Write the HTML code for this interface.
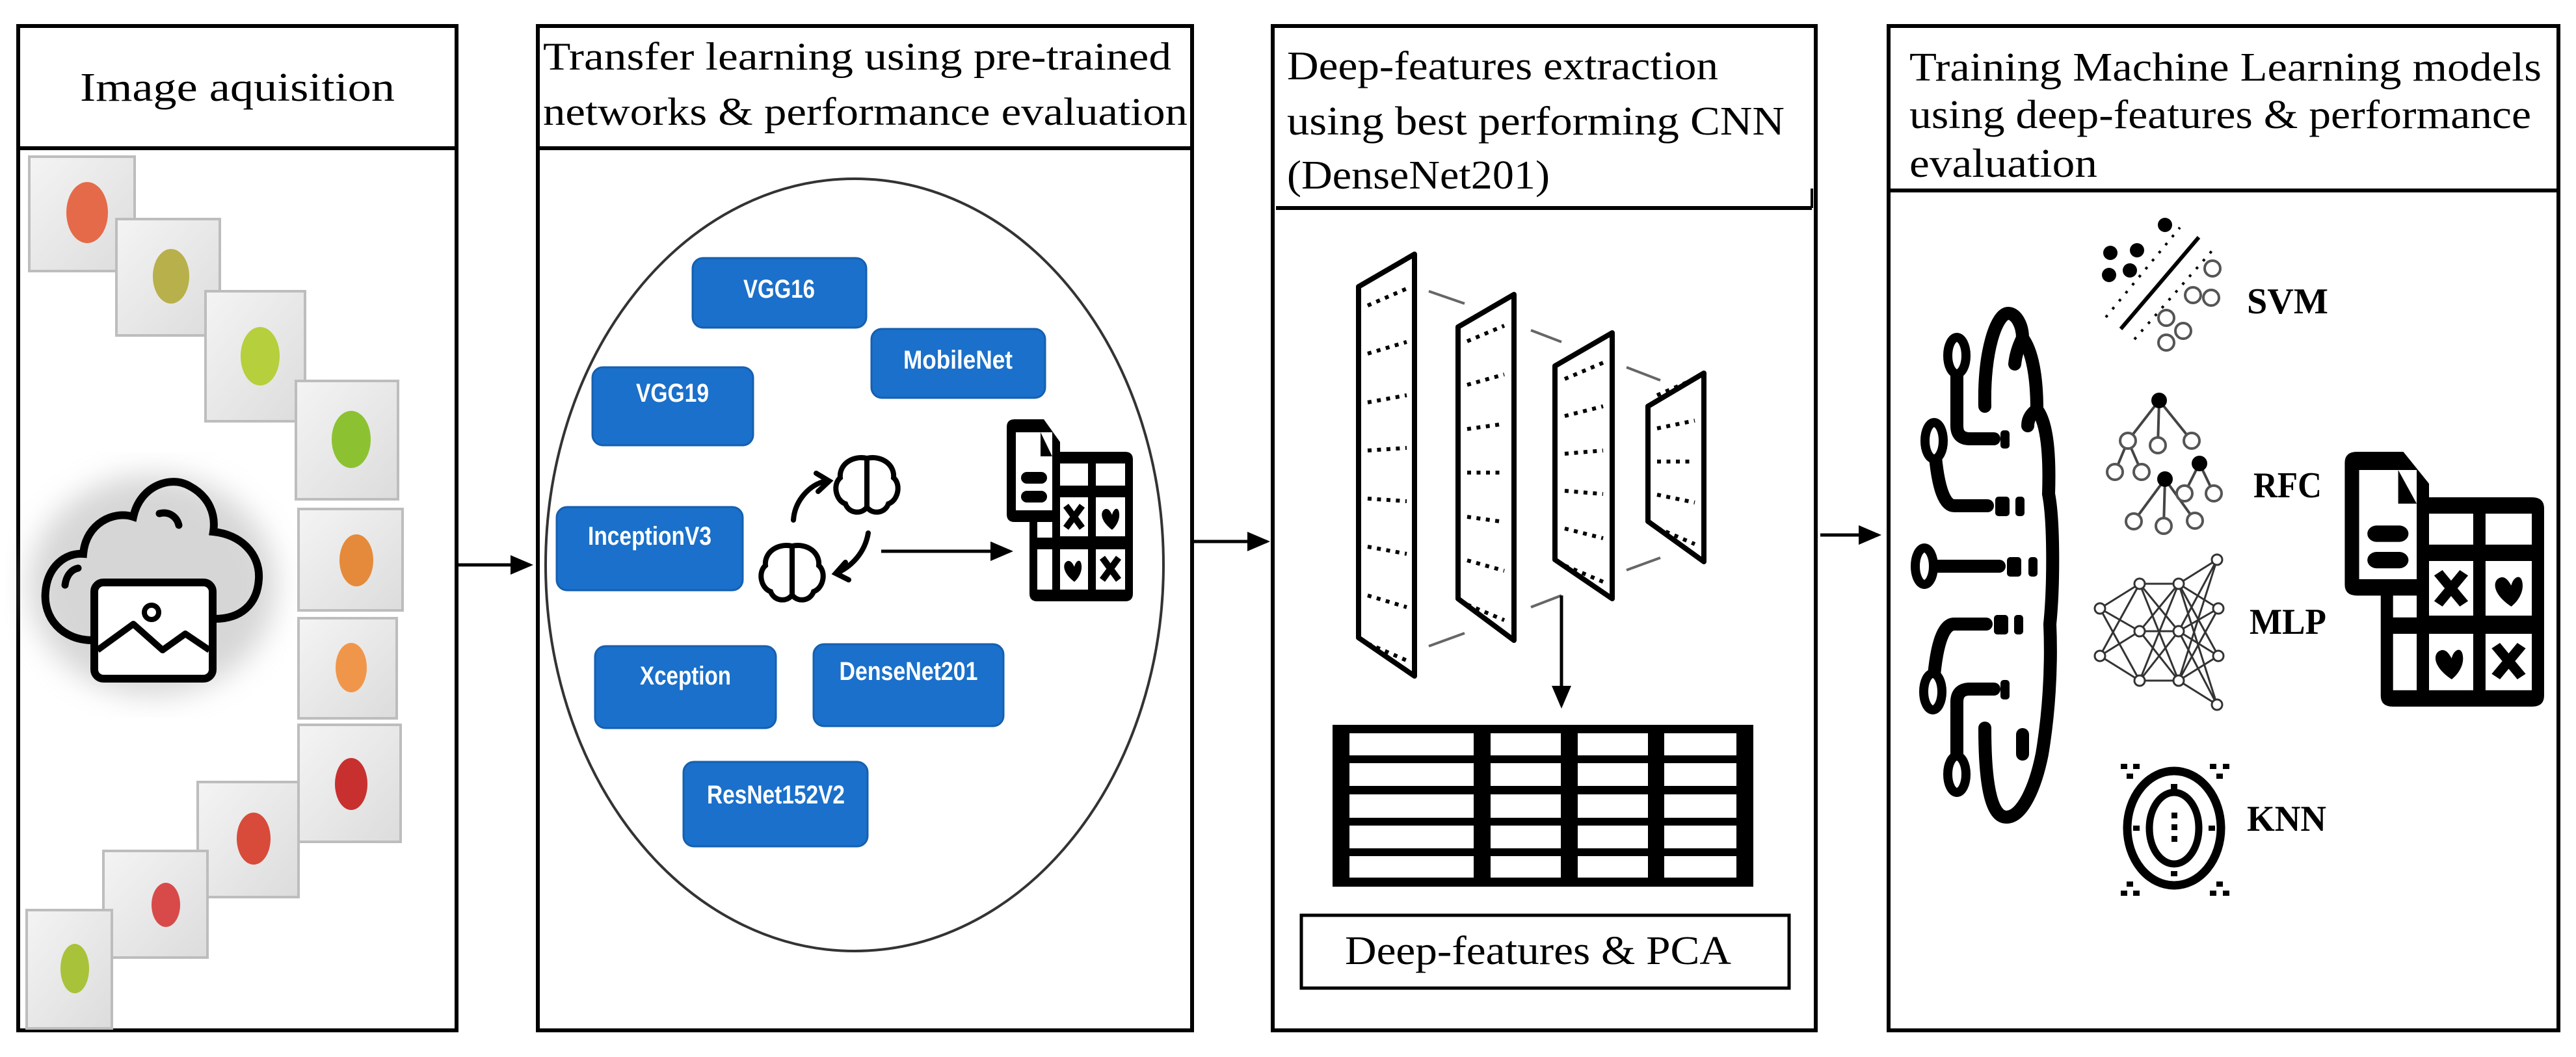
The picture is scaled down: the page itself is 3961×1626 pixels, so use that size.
<!DOCTYPE html>
<html><head><meta charset="utf-8"><style>
html,body{margin:0;padding:0;background:#fff;}
svg{display:block}
.t{font-family:"Liberation Serif",serif;fill:#000}
.b{font-family:"Liberation Sans",sans-serif;fill:#fff;font-weight:bold;font-size:40px;text-anchor:middle}
.lb{font-family:"Liberation Serif",serif;font-weight:bold;font-size:56px;fill:#000}
</style></head><body>
<svg width="3961" height="1626" viewBox="0 0 3961 1626" xmlns="http://www.w3.org/2000/svg">
<defs>
<marker id="ah" markerWidth="8" markerHeight="8" refX="6" refY="4" orient="auto" markerUnits="strokeWidth"><path d="M0,1 L7,4 L0,7 z" fill="#000"/></marker>
<linearGradient id="tile" x1="0" y1="0" x2="1" y2="1"><stop offset="0" stop-color="#f4f4f4"/><stop offset="1" stop-color="#dcdcdc"/></linearGradient>
<filter id="blur"><feGaussianBlur stdDeviation="22"/></filter>
<g id="tab">
  <path d="M30,25 H75 L100,60 V75 H200 Q212,75 212,87 V293 Q212,305 200,305 H65 Q53,305 53,293 V183 H30 Q18,183 18,171 V37 Q18,25 30,25 Z" fill="#000"/>
  <rect x="32" y="45" width="56" height="120" fill="#fff"/>
  <path d="M70,45 V82 H88 Z" fill="#000"/>
  <rect x="40" y="106" width="40" height="18" rx="9" fill="#000"/>
  <rect x="40" y="135" width="40" height="18" rx="9" fill="#000"/>
  <rect x="100" y="93" width="43" height="34" fill="#fff"/>
  <rect x="155" y="93" width="45" height="34" fill="#fff"/>
  <rect x="65" y="183" width="23" height="24" fill="#fff"/>
  <rect x="100" y="145" width="43" height="60" fill="#fff"/>
  <rect x="155" y="145" width="45" height="60" fill="#fff"/>
  <rect x="65" y="225" width="23" height="62" fill="#fff"/>
  <rect x="100" y="225" width="43" height="62" fill="#fff"/>
  <rect x="155" y="225" width="45" height="62" fill="#fff"/>
  <path d="M109,158 L134,192 M134,158 L109,192" stroke="#000" stroke-width="10"/>
  <path d="M165,238 L190,272 M190,238 L165,272" stroke="#000" stroke-width="10"/>
  <path d="M180,195 C160,180 162,165 170,163 C175,162 178,168 180,172 C182,162 190,158 191,170 C192,180 186,190 180,195 Z" fill="#000"/>
  <path d="M122,275 C102,260 104,245 112,243 C117,242 120,248 122,252 C124,242 132,238 133,250 C134,260 128,270 122,275 Z" fill="#000"/>
</g>
</defs>

<!-- Panel 1 -->
<rect x="28" y="40" width="674" height="1545" fill="none" stroke="#000" stroke-width="6"/>
<line x1="28" y1="228" x2="702" y2="228" stroke="#000" stroke-width="6"/>
<text class="t" x="365" y="155" font-size="62" text-anchor="middle" textLength="484" lengthAdjust="spacingAndGlyphs">Image aquisition</text>

<g stroke="#bdbdbd" stroke-width="4" fill="url(#tile)">
<rect x="45" y="241" width="162" height="176"/>
<rect x="179" y="337" width="159" height="179"/>
<rect x="316" y="448" width="153" height="200"/>
<rect x="455" y="586" width="157" height="182"/>
<rect x="459" y="783" width="160" height="156"/>
<rect x="459" y="951" width="151" height="154"/>
<rect x="459" y="1115" width="157" height="180"/>
<rect x="304" y="1203" width="155" height="177"/>
<rect x="159" y="1309" width="160" height="164"/>
<rect x="41" y="1400" width="131" height="182"/>
</g>
<g>
<ellipse cx="134" cy="327" rx="32" ry="47" fill="#e56a4a"/>
<ellipse cx="263" cy="425" rx="28" ry="42" fill="#b8b04a"/>
<ellipse cx="400" cy="548" rx="30" ry="45" fill="#b5cf3d"/>
<ellipse cx="540" cy="676" rx="30" ry="44" fill="#8cc232"/>
<ellipse cx="548" cy="862" rx="26" ry="40" fill="#e58a3a"/>
<ellipse cx="540" cy="1027" rx="24" ry="38" fill="#f0964a"/>
<ellipse cx="540" cy="1206" rx="25" ry="40" fill="#c83030"/>
<ellipse cx="390" cy="1290" rx="26" ry="40" fill="#d84a3a"/>
<ellipse cx="255" cy="1392" rx="22" ry="34" fill="#d84a4a"/>
<ellipse cx="115" cy="1490" rx="22" ry="38" fill="#a8c23a"/>
</g>

<ellipse cx="235" cy="900" rx="190" ry="170" fill="#bbb" filter="url(#blur)" opacity="0.6"/>
<path d="M143,985 C95,985 66,950 70,910 C73,872 100,850 128,852 C132,805 175,785 205,795 C215,748 262,730 292,748 C322,764 332,792 328,818 C370,822 400,852 398,890 C396,930 370,952 330,952" fill="none" stroke="#000" stroke-width="12" stroke-linecap="round"/>
<path d="M100,900 C102,885 110,876 120,874" fill="none" stroke="#000" stroke-width="11" stroke-linecap="round"/>
<path d="M245,790 C260,786 272,795 275,808" fill="none" stroke="#000" stroke-width="11" stroke-linecap="round"/>
<rect x="145" y="896" width="182" height="148" rx="14" fill="#fff" stroke="#000" stroke-width="12"/>
<circle cx="233" cy="942" r="11" fill="none" stroke="#000" stroke-width="8"/>
<path d="M150,1000 L205,960 L250,1000 L285,975 L322,1000" fill="none" stroke="#000" stroke-width="10" stroke-linejoin="round"/>

<line x1="702" y1="869" x2="815" y2="869" stroke="#000" stroke-width="5" marker-end="url(#ah)"/>

<!-- Panel 2 -->
<rect x="827" y="40" width="1006" height="1545" fill="none" stroke="#000" stroke-width="6"/>
<line x1="827" y1="228" x2="1833" y2="228" stroke="#000" stroke-width="6"/>
<text class="t" x="835" y="107" font-size="60" textLength="966" lengthAdjust="spacingAndGlyphs">Transfer learning using pre-trained</text>
<text class="t" x="835" y="192" font-size="60" textLength="991" lengthAdjust="spacingAndGlyphs">networks &amp; performance evaluation</text>
<ellipse cx="1314" cy="869" rx="475" ry="594" fill="none" stroke="#333" stroke-width="4"/>
<g fill="#1a70ca" stroke="#1560b0" stroke-width="3">
<rect x="1065" y="397" width="267" height="107" rx="16"/>
<rect x="1340" y="506" width="267" height="106" rx="16"/>
<rect x="911" y="565" width="247" height="120" rx="16"/>
<rect x="856" y="780" width="286" height="128" rx="16"/>
<rect x="915" y="994" width="278" height="126" rx="16"/>
<rect x="1251" y="991" width="292" height="126" rx="16"/>
<rect x="1051" y="1172" width="283" height="130" rx="16"/>
</g>
<text class="b" x="1198" y="458" textLength="110" lengthAdjust="spacingAndGlyphs">VGG16</text>
<text class="b" x="1473" y="567" textLength="168" lengthAdjust="spacingAndGlyphs">MobileNet</text>
<text class="b" x="1034" y="618" textLength="112" lengthAdjust="spacingAndGlyphs">VGG19</text>
<text class="b" x="999" y="838" textLength="190" lengthAdjust="spacingAndGlyphs">InceptionV3</text>
<text class="b" x="1054" y="1053" textLength="140" lengthAdjust="spacingAndGlyphs">Xception</text>
<text class="b" x="1397" y="1046" textLength="213" lengthAdjust="spacingAndGlyphs">DenseNet201</text>
<text class="b" x="1193" y="1236" textLength="212" lengthAdjust="spacingAndGlyphs">ResNet152V2</text>

<g fill="none" stroke="#000" stroke-width="8" stroke-linecap="round">
<path d="M1333,705 C1310,700 1290,715 1292,735 C1280,745 1285,770 1300,775 C1305,790 1325,792 1333,780 Z"/>
<path d="M1333,705 C1356,700 1376,715 1374,735 C1386,745 1381,770 1366,775 C1361,790 1341,792 1333,780"/>
<path d="M1218,840 C1195,835 1175,850 1177,870 C1165,880 1170,905 1185,910 C1190,925 1210,927 1218,915 Z"/>
<path d="M1218,840 C1241,835 1261,850 1259,870 C1271,880 1266,905 1251,910 C1246,925 1226,927 1218,915"/>
<path d="M1220,800 C1222,770 1245,745 1270,740"/>
<path d="M1255,728 L1275,740 L1258,756"/>
<path d="M1335,820 C1330,850 1310,870 1290,880"/>
<path d="M1300,865 L1285,882 L1305,892"/>
</g>
<line x1="1355" y1="848" x2="1553" y2="848" stroke="#000" stroke-width="5" marker-end="url(#ah)"/>
<use href="#tab" transform="translate(1530,620)"/>

<line x1="1833" y1="833" x2="1948" y2="833" stroke="#000" stroke-width="5" marker-end="url(#ah)"/>

<!-- Panel 3 -->
<rect x="1957" y="40" width="835" height="1545" fill="none" stroke="#000" stroke-width="6"/>
<line x1="1962" y1="320" x2="2786" y2="320" stroke="#000" stroke-width="6"/>
<line x1="2786" y1="290" x2="2786" y2="320" stroke="#000" stroke-width="4"/>
<text class="t" x="1979" y="122" font-size="62" textLength="663" lengthAdjust="spacingAndGlyphs">Deep-features extraction</text>
<text class="t" x="1979" y="207" font-size="62" textLength="765" lengthAdjust="spacingAndGlyphs">using best performing CNN</text>
<text class="t" x="1979" y="290" font-size="62" textLength="404" lengthAdjust="spacingAndGlyphs">(DenseNet201)</text>

<g fill="#fff" stroke="#000" stroke-width="8" stroke-linejoin="round">
<path d="M2089,441 L2175,391 L2175,1040 L2089,981 Z"/>
<path d="M2242,503 L2328,453 L2328,985 L2242,921 Z"/>
<path d="M2391,563 L2479,512 L2479,921 L2391,861 Z"/>
<path d="M2534,625 L2620,574 L2620,864 L2534,802 Z"/>
</g>
<g stroke="#666" stroke-width="4">
<line x1="2197" y1="448" x2="2252" y2="467"/><line x1="2197" y1="994" x2="2252" y2="974"/>
<line x1="2354" y1="508" x2="2401" y2="526"/><line x1="2354" y1="934" x2="2401" y2="916"/>
<line x1="2501" y1="565" x2="2553" y2="585"/><line x1="2501" y1="877" x2="2553" y2="858"/>
</g>
<g stroke="#000" stroke-width="6" stroke-dasharray="6 8.5">
<line x1="2103" y1="470" x2="2163" y2="444"/>
<line x1="2103" y1="544" x2="2163" y2="526"/>
<line x1="2103" y1="619" x2="2163" y2="608"/>
<line x1="2103" y1="693" x2="2163" y2="689"/>
<line x1="2103" y1="767" x2="2163" y2="771"/>
<line x1="2103" y1="841" x2="2163" y2="852"/>
<line x1="2103" y1="916" x2="2163" y2="934"/>
<line x1="2103" y1="990" x2="2163" y2="1016"/>
<line x1="2256" y1="525" x2="2313" y2="501"/>
<line x1="2256" y1="592" x2="2313" y2="576"/>
<line x1="2256" y1="660" x2="2313" y2="652"/>
<line x1="2256" y1="727" x2="2313" y2="727"/>
<line x1="2256" y1="795" x2="2313" y2="803"/>
<line x1="2256" y1="862" x2="2313" y2="878"/>
<line x1="2256" y1="930" x2="2313" y2="954"/>
<line x1="2406" y1="583" x2="2465" y2="558"/>
<line x1="2406" y1="640" x2="2465" y2="625"/>
<line x1="2406" y1="698" x2="2465" y2="693"/>
<line x1="2406" y1="755" x2="2465" y2="760"/>
<line x1="2406" y1="813" x2="2465" y2="828"/>
<line x1="2406" y1="870" x2="2465" y2="895"/>
<line x1="2548" y1="608" x2="2606" y2="583"/>
<line x1="2548" y1="659" x2="2606" y2="647"/>
<line x1="2548" y1="710" x2="2606" y2="710"/>
<line x1="2548" y1="761" x2="2606" y2="773"/>
<line x1="2548" y1="812" x2="2606" y2="837"/>
</g>
<line x1="2401" y1="916" x2="2401" y2="1085" stroke="#000" stroke-width="5" marker-end="url(#ah)"/>

<rect x="2049" y="1115" width="647" height="249" fill="#000"/>
<g fill="#fff">
<rect x="2075" y="1128" width="191" height="34"/><rect x="2292" y="1128" width="108" height="34"/><rect x="2426" y="1128" width="108" height="34"/><rect x="2559" y="1128" width="111" height="34"/>
<rect x="2075" y="1174" width="191" height="35"/><rect x="2292" y="1174" width="108" height="35"/><rect x="2426" y="1174" width="108" height="35"/><rect x="2559" y="1174" width="111" height="35"/>
<rect x="2075" y="1222" width="191" height="36"/><rect x="2292" y="1222" width="108" height="36"/><rect x="2426" y="1222" width="108" height="36"/><rect x="2559" y="1222" width="111" height="36"/>
<rect x="2075" y="1270" width="191" height="35"/><rect x="2292" y="1270" width="108" height="35"/><rect x="2426" y="1270" width="108" height="35"/><rect x="2559" y="1270" width="111" height="35"/>
<rect x="2075" y="1317" width="191" height="33"/><rect x="2292" y="1317" width="108" height="33"/><rect x="2426" y="1317" width="108" height="33"/><rect x="2559" y="1317" width="111" height="33"/>
</g>
<rect x="2001" y="1408" width="750" height="112" fill="none" stroke="#000" stroke-width="5"/>
<text class="t" x="2068" y="1483" font-size="62" textLength="594" lengthAdjust="spacingAndGlyphs">Deep-features &amp; PCA</text>

<line x1="2799" y1="823" x2="2888" y2="823" stroke="#000" stroke-width="5" marker-end="url(#ah)"/>

<!-- Panel 4 -->
<rect x="2904" y="40" width="1030" height="1545" fill="none" stroke="#000" stroke-width="6"/>
<line x1="2904" y1="293" x2="3934" y2="293" stroke="#000" stroke-width="6"/>
<text class="t" x="2936" y="124" font-size="62" textLength="972" lengthAdjust="spacingAndGlyphs">Training Machine Learning models</text>
<text class="t" x="2936" y="197" font-size="62" textLength="956" lengthAdjust="spacingAndGlyphs">using deep-features &amp; performance</text>
<text class="t" x="2936" y="272" font-size="62" textLength="289" lengthAdjust="spacingAndGlyphs">evaluation</text>

<g fill="none" stroke="#000" stroke-width="20" stroke-linecap="round">
<path d="M3052,625 C3050,540 3070,482 3088,482 C3100,482 3110,500 3110,520 C3125,540 3132,580 3132,630 C3148,650 3152,700 3150,760 C3158,800 3158,900 3152,960 C3155,1030 3150,1100 3140,1160 C3130,1210 3110,1257 3085,1257 C3065,1257 3052,1220 3052,1120"/>
<path d="M3009,547 L3009,655 Q3009,675 3029,675 L3066,675"/>
<path d="M2974,678 Q2980,778 3005,778 L3056,778"/>
<path d="M2959,871 L3074,871"/>
<path d="M2972,1064 Q2978,960 3005,960 L3054,960"/>
<path d="M3009,1191 L3009,1080 Q3009,1060 3029,1060 L3066,1060"/>
<path d="M3110,520 Q3100,540 3098,560"/>
<path d="M3132,630 Q3118,640 3118,655"/>
<path d="M3110,1160 L3110,1130"/>
</g>
<g fill="#fff" stroke="#000" stroke-width="14">
<ellipse cx="3009" cy="547" rx="14" ry="28"/>
<ellipse cx="2974" cy="678" rx="14" ry="28"/>
<ellipse cx="2959" cy="871" rx="14" ry="28"/>
<ellipse cx="2972" cy="1064" rx="14" ry="28"/>
<ellipse cx="3009" cy="1191" rx="14" ry="28"/>
</g>
<g fill="#000">
<rect x="3076" y="662" width="14" height="28" rx="5"/>
<rect x="3068" y="764" width="22" height="30" rx="5"/><rect x="3099" y="764" width="14" height="30" rx="5"/>
<rect x="3086" y="857" width="22" height="30" rx="5"/><rect x="3119" y="857" width="14" height="30" rx="5"/>
<rect x="3066" y="946" width="22" height="30" rx="5"/><rect x="3097" y="946" width="14" height="30" rx="5"/>
<rect x="3076" y="1046" width="14" height="30" rx="5"/>
</g>

<!-- SVM -->
<g fill="#000">
<circle cx="3245" cy="389" r="11"/><circle cx="3286" cy="385" r="11"/><circle cx="3243" cy="423" r="11"/><circle cx="3275" cy="416" r="11"/><circle cx="3329" cy="346" r="11"/>
</g>
<line x1="3261" y1="506" x2="3381" y2="365" stroke="#000" stroke-width="6"/>
<line x1="3238" y1="488" x2="3352" y2="350" stroke="#000" stroke-width="4" stroke-dasharray="4 12"/>
<line x1="3282" y1="522" x2="3402" y2="385" stroke="#000" stroke-width="4" stroke-dasharray="4 12"/>
<g fill="none" stroke="#555" stroke-width="4">
<circle cx="3402" cy="413" r="12"/><circle cx="3372" cy="454" r="12"/><circle cx="3400" cy="458" r="12"/><circle cx="3331" cy="489" r="12"/><circle cx="3357" cy="509" r="12"/><circle cx="3331" cy="527" r="12"/>
</g>
<text class="lb" x="3455" y="482" textLength="125" lengthAdjust="spacingAndGlyphs">SVM</text>

<!-- RFC -->
<g stroke="#444" stroke-width="4" fill="none">
<path d="M3320,616 L3272,678 M3320,616 L3318,685 M3320,616 L3370,678 M3272,678 L3252,726 M3272,678 L3293,726"/>
<path d="M3329,737 L3281,802 M3329,737 L3327,809 M3329,737 L3375,801 M3382,713 L3359,759 M3382,713 L3404,759"/>
</g>
<g fill="#000"><circle cx="3320" cy="616" r="12"/><circle cx="3329" cy="737" r="12"/><circle cx="3382" cy="713" r="12"/></g>
<g fill="#fff" stroke="#555" stroke-width="4">
<circle cx="3272" cy="678" r="12"/><circle cx="3318" cy="685" r="12"/><circle cx="3370" cy="678" r="12"/><circle cx="3252" cy="726" r="12"/><circle cx="3293" cy="726" r="12"/>
<circle cx="3281" cy="802" r="12"/><circle cx="3327" cy="809" r="12"/><circle cx="3375" cy="801" r="12"/><circle cx="3359" cy="759" r="12"/><circle cx="3404" cy="759" r="12"/>
</g>
<text class="lb" x="3465" y="765" textLength="105" lengthAdjust="spacingAndGlyphs">RFC</text>

<!-- MLP -->
<g stroke="#333" stroke-width="3">
<line x1="3229" y1="936" x2="3290" y2="898"/><line x1="3229" y1="936" x2="3290" y2="971"/><line x1="3229" y1="936" x2="3290" y2="1047"/>
<line x1="3229" y1="1009" x2="3290" y2="898"/><line x1="3229" y1="1009" x2="3290" y2="971"/><line x1="3229" y1="1009" x2="3290" y2="1047"/>
<line x1="3290" y1="898" x2="3350" y2="898"/><line x1="3290" y1="898" x2="3350" y2="971"/><line x1="3290" y1="898" x2="3350" y2="1047"/>
<line x1="3290" y1="971" x2="3350" y2="898"/><line x1="3290" y1="971" x2="3350" y2="971"/><line x1="3290" y1="971" x2="3350" y2="1047"/>
<line x1="3290" y1="1047" x2="3350" y2="898"/><line x1="3290" y1="1047" x2="3350" y2="971"/><line x1="3290" y1="1047" x2="3350" y2="1047"/>
<line x1="3350" y1="898" x2="3409" y2="861"/><line x1="3350" y1="898" x2="3411" y2="936"/><line x1="3350" y1="898" x2="3411" y2="1009"/><line x1="3350" y1="898" x2="3409" y2="1084"/>
<line x1="3350" y1="971" x2="3409" y2="861"/><line x1="3350" y1="971" x2="3411" y2="936"/><line x1="3350" y1="971" x2="3411" y2="1009"/><line x1="3350" y1="971" x2="3409" y2="1084"/>
<line x1="3350" y1="1047" x2="3409" y2="861"/><line x1="3350" y1="1047" x2="3411" y2="936"/><line x1="3350" y1="1047" x2="3411" y2="1009"/><line x1="3350" y1="1047" x2="3409" y2="1084"/>
</g>
<g fill="#fff" stroke="#333" stroke-width="3">
<circle cx="3229" cy="936" r="8"/><circle cx="3229" cy="1009" r="8"/>
<circle cx="3290" cy="898" r="8"/><circle cx="3290" cy="971" r="8"/><circle cx="3290" cy="1047" r="8"/>
<circle cx="3350" cy="898" r="8"/><circle cx="3350" cy="971" r="8"/><circle cx="3350" cy="1047" r="8"/>
<circle cx="3409" cy="861" r="8"/><circle cx="3411" cy="936" r="8"/><circle cx="3411" cy="1009" r="8"/><circle cx="3409" cy="1084" r="8"/>
</g>
<text class="lb" x="3459" y="975" textLength="118" lengthAdjust="spacingAndGlyphs">MLP</text>

<!-- KNN -->
<ellipse cx="3343" cy="1274" rx="72" ry="88" fill="none" stroke="#000" stroke-width="13"/>
<ellipse cx="3343" cy="1274" rx="38" ry="55" fill="none" stroke="#000" stroke-width="11"/>
<g fill="#000">
<rect x="3339" y="1250" width="9" height="9"/><rect x="3339" y="1268" width="9" height="9"/><rect x="3339" y="1286" width="9" height="9"/>
<rect x="3338" y="1206" width="10" height="8"/><rect x="3338" y="1340" width="10" height="8"/>
<rect x="3280" y="1270" width="10" height="8"/><rect x="3396" y="1270" width="10" height="8"/>
<rect x="3261" y="1175" width="10" height="8"/><rect x="3280" y="1175" width="10" height="8"/><rect x="3270" y="1190" width="10" height="8"/>
<rect x="3398" y="1175" width="10" height="8"/><rect x="3418" y="1175" width="10" height="8"/><rect x="3408" y="1190" width="10" height="8"/>
<rect x="3261" y="1370" width="10" height="8"/><rect x="3280" y="1370" width="10" height="8"/><rect x="3270" y="1356" width="10" height="8"/>
<rect x="3398" y="1370" width="10" height="8"/><rect x="3418" y="1370" width="10" height="8"/><rect x="3408" y="1356" width="10" height="8"/>
</g>
<text class="lb" x="3455" y="1278" textLength="122" lengthAdjust="spacingAndGlyphs">KNN</text>

<use href="#tab" transform="translate(3577,660) scale(1.58,1.4)"/>
</svg>
</body></html>
